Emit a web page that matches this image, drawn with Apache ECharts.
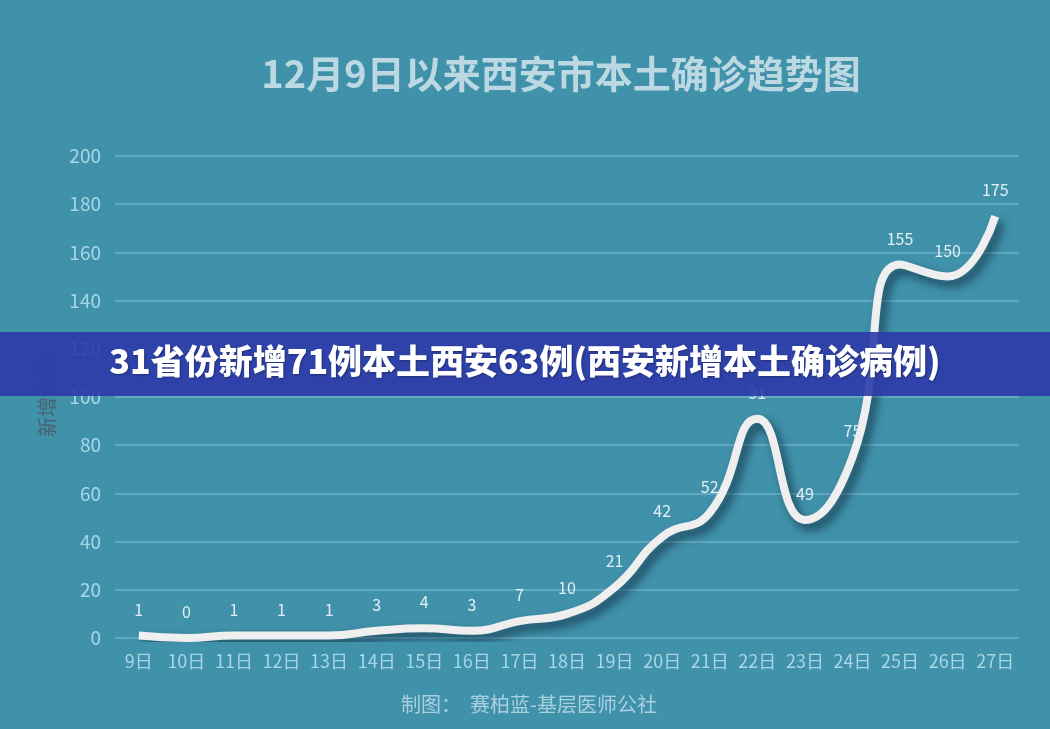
<!DOCTYPE html>
<html><head><meta charset="utf-8">
<script src="https://cdn.jsdelivr.net/npm/echarts@6/dist/echarts.min.js"></script>
<style>html,body{margin:0;padding:0;background:#4091aa;}#c{width:1050px;height:729px;}</style>
</head><body><div id="c"></div>
<script>
const categories = ['9日','10日','11日','12日','13日','14日','15日','16日','17日','18日','19日','20日','21日','22日','23日','24日','25日','26日','27日'];
const values = [1,0,1,1,1,3,4,3,7,10,21,42,52,91,49,75,155,150,175];
const titleText = '12月9日以来西安市本土确诊趋势图';
const bannerText = '31省份新增71例本土西安63例(西安新增本土确诊病例)';
const footerText = '制图：  赛柏蓝-基层医师公社';
const yAxisName = '新增病例';

const chart = echarts.init(document.getElementById('c'));
const font = '"Noto Sans CJK SC", "Noto Sans", sans-serif';
chart.setOption({
  backgroundColor: '#4091aa',
  textStyle: { fontFamily: font },
  title: {
    text: titleText, left: 556, top: 50, textAlign: 'center',
    textStyle: { color: '#bcd8e2', fontSize: 38, fontWeight: 'bold', fontFamily: font }
  },
  grid: { left: 115, right: 31, top: 156, bottom: 91, containLabel: false },
  xAxis: {
    type: 'category', data: categories, boundaryGap: true,
    axisLine: { show: false }, axisTick: { show: false },
    axisLabel: { color: '#a9d6e6', fontSize: 18, margin: 14, interval: 0, fontFamily: font }
  },
  yAxis: {
    type: 'value', min: 0, max: 200, interval: 20,
    name: yAxisName, nameLocation: 'middle', nameGap: 58, nameRotate: 90,
    nameTextStyle: { color: '#4a6272', fontSize: 20, fontFamily: font },
    axisLine: { show: false }, axisTick: { show: false },
    axisLabel: { color: '#a9d6e6', fontSize: 19, margin: 14, fontFamily: font },
    splitLine: { lineStyle: { color: '#62a9c2', width: 2 } }
  },
  series: [{
    type: 'line', data: values, smooth: 0.5, symbol: 'circle', symbolSize: 2, showSymbol: true,
    itemStyle: { color: 'rgba(0,0,0,0)' },
    lineStyle: { color: '#efefef', width: 8, shadowColor: 'rgba(0,20,40,0.6)', shadowBlur: 10, shadowOffsetX: 5, shadowOffsetY: 6 },
    label: { show: true, position: 'top', distance: 17, color: '#e2eff4', fontSize: 16, fontFamily: font },
    z: 2
  }],
  graphic: [
    { type: 'rect', left: 0, top: 332, z: 100, shape: { width: 1050, height: 64 }, style: { fill: 'rgba(46,58,168,0.9)' } },
    { type: 'text', left: 'center', top: 344, z: 101, style: { text: bannerText, fill: '#ffffff', font: '900 34px ' + font, textShadowColor: 'rgba(0,0,0,0.3)', textShadowBlur: 2, textShadowOffsetX: 1, textShadowOffsetY: 1 } },
    { type: 'text', left: 401, top: 694, z: 10, style: { text: footerText, fill: '#a9d0de', font: '20px ' + font } }
  ]
});
</script></body></html>
